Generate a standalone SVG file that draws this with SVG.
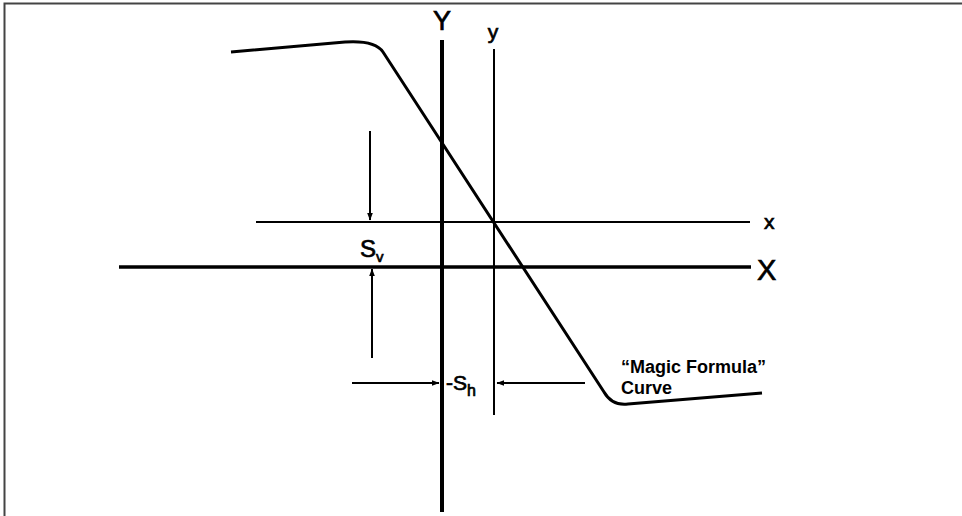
<svg xmlns="http://www.w3.org/2000/svg" width="962" height="516" viewBox="0 0 962 516">
<style>
.t{font-family:"Liberation Sans",Arial,sans-serif;fill:#000}
.h{stroke:#000;stroke-width:0.7}
.b{font-weight:bold}
.ln{stroke:#000;fill:none}
</style>
<defs>
<marker id="ah" markerWidth="8" markerHeight="8" refX="7" refY="4" orient="auto" markerUnits="userSpaceOnUse">
<path d="M0,1.2 L7.5,4 L0,6.8 Z" fill="#000"/>
</marker>
</defs>
<rect width="962" height="516" fill="#fff"/>
<path d="M4.5,516 V3.5 H962" stroke="#444" stroke-width="2" fill="none"/>
<g id="axes">
<g id="Y-axis"><line class="ln" x1="442" y1="40" x2="442" y2="512" stroke-width="4"/><text class="t h" x="442" y="30" font-size="27" text-anchor="middle">Y</text></g>
<g id="y-axis"><line class="ln" x1="494" y1="49" x2="494" y2="415" stroke-width="2"/><text class="t h" x="493" y="39" font-size="21" text-anchor="middle">y</text></g>
<g id="X-axis"><line class="ln" x1="119" y1="267" x2="751" y2="267" stroke-width="3.5"/><text class="t h" x="757" y="280" font-size="29">X</text></g>
<g id="x-axis"><line class="ln" x1="256" y1="222" x2="750" y2="222" stroke-width="2"/><text class="t h" x="764" y="229" font-size="21">x</text></g>
</g>
<g id="curve">
<path class="ln" stroke-width="3" d="M231,52 L345,42 Q375,40 383,52 L604,392 Q612,406 628,404 L762,393"/>
<text class="t b" x="621" y="373" font-size="18">“Magic Formula”</text>
<text class="t b" x="621" y="394" font-size="18">Curve</text>
</g>
<g id="connectors">
<line class="ln" x1="370" y1="131" x2="370" y2="220" stroke-width="2" marker-end="url(#ah)"/>
<line class="ln" x1="372" y1="358" x2="372" y2="269" stroke-width="2" marker-end="url(#ah)"/>
<line class="ln" x1="352" y1="383" x2="439" y2="383" stroke-width="2" marker-end="url(#ah)"/>
<line class="ln" x1="585" y1="383" x2="497" y2="383" stroke-width="2" marker-end="url(#ah)"/>
</g>
<g id="Sv"><text class="t h" x="360" y="257" font-size="24">S<tspan font-size="15" dy="5">v</tspan></text></g>
<g id="Sh"><text class="t h" x="446" y="390" font-size="21">-S<tspan font-size="16" dy="6">h</tspan></text></g>
</svg>
